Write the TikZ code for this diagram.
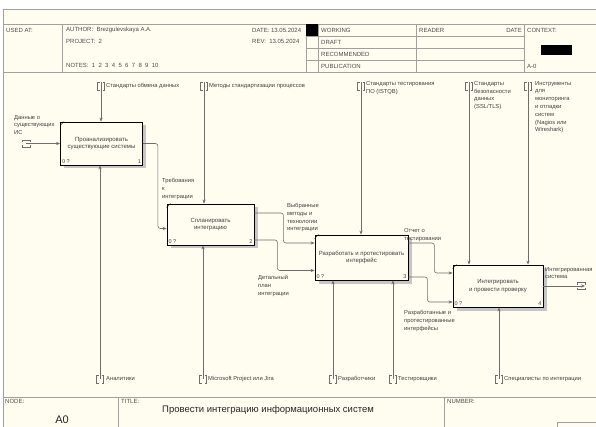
\documentclass[tikz,border=0pt]{standalone}
\usepackage{fontspec}
\setmainfont{Liberation Sans}
\usetikzlibrary{arrows.meta,shadows}
\definecolor{paper}{HTML}{FFFCF0}
\definecolor{ln}{HTML}{6E6E6E}
\definecolor{fr}{HTML}{A0A0A0}
\tikzset{act/.style = {rectangle, thick, draw=black, fill=paper, align=center, inner sep=1pt,
                       font=\fontsize{6}{7.8}\selectfont, text=black!75,
                       drop shadow={shadow xshift=3.5pt, shadow yshift=-3.5pt, fill=gray!45, opacity=1}},
         cn/.style = {inner sep=1.8pt, font=\fontsize{5.5}{6}\selectfont, text=black!75},
         lb/.style = {inner sep=0pt, align=left, anchor=north west, font=\fontsize{5.8}{7.8}\selectfont, text=black!75},
         hd/.style = {inner sep=0pt, anchor=west, font=\fontsize{6}{7}\selectfont, text=black!70},
         ar/.style = {draw=ln, semithick, -{Stealth[length=4pt,width=3.2pt]}, rounded corners=2.5pt},
         tn/.pic = {\draw[ln] (-1.5,-4) -- (-3.5,-4) -- (-3.5,4) -- (-1.5,4) (1.5,-4) -- (3.5,-4) -- (3.5,4) -- (1.5,4);}}

\begin{document}
\begin{tikzpicture}[x=1pt, y=-1pt]
  \useasboundingbox (0,0) rectangle (596,427);
  \fill[white] (0,0) rectangle (596,427);
  \fill[paper] (3,9) rectangle (596,427);
  \draw[fr] (596,9) -- (3,9) -- (3,427);
  % header
  \draw[fr] (3,24) -- (596,24) (3,72) -- (596,72);
  \draw[fr] (62,24) -- (62,72) (306,24) -- (306,72) (318,24) -- (318,72)
            (416,24) -- (416,72) (524,24) -- (524,72);
  \draw[fr] (306,36) -- (524,36) (306,48) -- (524,48) (306,60) -- (524,60);
  \fill[black] (306,24) rectangle (318,36);
  \fill[black] (541,45) rectangle (572,55);
  \node[hd] (h1) at (6,30) {USED AT:};
  \node[hd] (h2) at (66,30) {AUTHOR:\ \ Brezgulevskaya A.A.};
  \node[hd] (h3) at (66,41.5) {PROJECT:\ \ 2};
  \node[hd] (h4) at (66,65) {NOTES:\ \ 1\ \ 2\ \ 3\ \ 4\ \ 5\ \ 6\ \ 7\ \ 8\ \ 9\ \ 10};
  \node[hd] (h5) at (252,30) {DATE:\ 13.05.2024};
  \node[hd] (h6) at (252,41.5) {REV:\ \ 13.05.2024};
  \node[hd] (h7) at (321,30) {WORKING};
  \node[hd] (h8) at (321,42) {DRAFT};
  \node[hd] (h9) at (321,54) {RECOMMENDED};
  \node[hd] (h10) at (321,66) {PUBLICATION};
  \node[hd] (h11) at (419,30) {READER};
  \node[hd, anchor=east] (h12) at (522,30) {DATE};
  \node[hd] (h13) at (527,30) {CONTEXT:};
  \node[hd] (h14) at (527,66) {A-0};
  % footer
  \draw[fr] (3,397) -- (596,397) (118,397) -- (118,427) (444,397) -- (444,427);
  \draw[fr] (557,422) -- (596,422) (557,422) -- (557,427);
  \node[hd, anchor=north west] (f1) at (5,399) {NODE:};
  \node[hd, anchor=north west] (f2) at (121,399) {TITLE:};
  \node[hd, anchor=north west] (f3) at (447,399) {NUMBER:};
  \node[font=\fontsize{11}{12}\selectfont, text=black!85] (f4) at (62,420) {A0};
  \node[font=\fontsize{9.5}{12}\selectfont, text=black!85] (f5) at (268,410) {Провести интеграцию информационных систем};

  % activity boxes
  \node[act, minimum width=82pt, minimum height=43pt,
        label={[cn, anchor=south west]south west:0 ?}, label={[cn, anchor=south east]south east:1}]
        (b1) at (101.5,143.5) {Проанализировать\\существующие системы};
  \node[act, minimum width=87pt, minimum height=41pt,
        label={[cn, anchor=south west]south west:0 ?}, label={[cn, anchor=south east]south east:2}]
        (b2) at (210.5,224.5) {Спланировать\\интеграцию};
  \node[act, minimum width=93pt, minimum height=45pt,
        label={[cn, anchor=south west]south west:0 ?}, label={[cn, anchor=south east]south east:3}]
        (b3) at (361.5,257.5) {Разработать и протестировать\\интерфейс};
  \node[act, minimum width=90pt, minimum height=42pt,
        label={[cn, anchor=south west]south west:0 ?}, label={[cn, anchor=south east]south east:4}]
        (b4) at (498,286) {Интегрировать\\и провести проверку};
  \foreach \b in {b1,b2,b3,b4}
    \draw ([yshift=-4pt]\b.north west) -- ([xshift=4pt]\b.north west);

  % tunnels
  \coordinate (i1) at (26,143.5);
  \coordinate (o1) at (585,286);
  \coordinate (c1) at (101,82);  \coordinate (c2) at (204,82);  \coordinate (c3) at (361,82);
  \coordinate (c4) at (469,82);  \coordinate (c5) at (528,82);
  \coordinate (m1) at (100,379); \coordinate (m2) at (203,379); \coordinate (m3) at (333,379);
  \coordinate (m4) at (393,379); \coordinate (m5) at (499,379);
  \foreach \c in {c1,c2,c3,c4,c5}
    \pic at ([yshift=-4pt]\c) {tn};
  \foreach \m in {m1,m2,m3,m4,m5}
    \pic at (\m) {tn};
  \pic[rotate=90] at (i1) {tn};
  \pic[rotate=90] at ([xshift=-4pt]o1) {tn};

  % inputs, controls, mechanisms, outputs
  \draw[ar] (i1) -- (b1.west);
  \draw[ar] (c1) -- (b1.north -| c1);
  \draw[ar] (c2) -- (b2.north -| c2);
  \draw[ar] (c3) -- (b3.north -| c3);
  \draw[ar] (c4) -- (b4.north -| c4);
  \draw[ar] (c5) -- (b4.north -| c5);
  \draw[ar] (m1) -- (b1.south -| m1);
  \draw[ar] (m2) -- (b2.south -| m2);
  \draw[ar] (m3) -- (b3.south -| m3);
  \draw[ar] (m4) -- (b3.south -| m4);
  \draw[ar] (m5) -- (b4.south -| m5);
  \draw[ar] (b1.east) -- ++(15,0) |- ([yshift=-4pt]b2.west);
  \draw[ar] ([yshift=11.5pt]b2.east) -- ++(29,0) |- ([yshift=14.5pt]b3.west);
  \draw[ar] ([yshift=-15.5pt]b2.east) -- ++(23,0) |- ([yshift=-13pt]b3.west);
  \draw[ar] ([yshift=14.5pt]b3.east) -- ++(26,0) |- ([yshift=13pt]b4.west);
  \draw[ar] ([yshift=-19.5pt]b3.east) -- ++(19,0) |- ([yshift=-16pt]b4.west);
  \draw[ar] (b4.east) -- (o1);

  % arrow labels
  \node[lb] (l1) at (14,115) {Данные о\\существующих\\ИС};
  \node[lb] (l2) at (106,83) {Стандарты обмена данных};
  \node[lb] (l3) at (209,83) {Методы стандартизации процессов};
  \node[lb] (l4) at (366,81) {Стандарты тестирования\\ПО (ISTQB)};
  \node[lb] (l5) at (474,81) {Стандарты\\безопасности\\данных\\(SSL/TLS)};
  \node[lb] (l6) at (535,81) {Инструменты\\для\\мониторинга\\и отладки\\систем\\(Nagios или\\Wireshark)};
  \node[lb] (l7) at (162,178) {Требования\\к\\интеграции};
  \node[lb] (l8) at (287,203) {Выбранные\\методы и\\технологии\\интеграции};
  \node[lb] (l9) at (258,275) {Детальный\\план\\интеграции};
  \node[lb] (l10) at (404,228) {Отчет о\\тестировании};
  \node[lb] (l11) at (404,310) {Разработанные и\\протестированные\\интерфейсы};
  \node[lb] (l12) at (545,267) {Интегрированная\\система};
  \node[lb, anchor=west] (l13) at (106,379) {Аналитики};
  \node[lb, anchor=west] (l14) at (208,379) {Microsoft Project или Jira};
  \node[lb, anchor=west] (l15) at (338,379) {Разработчики};
  \node[lb, anchor=west] (l16) at (398,379) {Тестировщики};
  \node[lb, anchor=west] (l17) at (504,379) {Специалисты по интеграции};
\end{tikzpicture}
\end{document}
